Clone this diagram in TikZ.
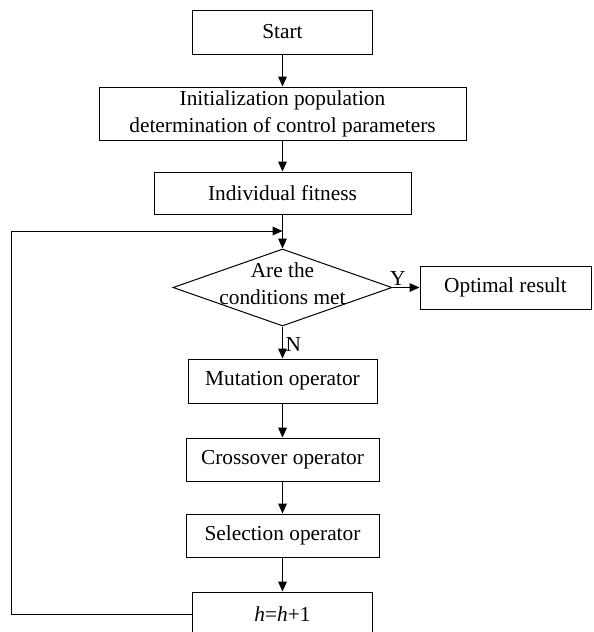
\documentclass[tikz,border=0pt]{standalone}
\usepackage{fontspec}
\setmainfont{Liberation Serif}
\usetikzlibrary{arrows.meta,shapes.geometric}
\begin{document}
\begin{tikzpicture}[x=0.75pt,y=-0.75pt,
  every node/.style={font=\fontsize{16pt}{20.25pt}\selectfont},
  box/.style={draw,line width=0.75pt,rectangle,inner sep=0pt,align=center},
  dia/.style={draw,line width=0.75pt,diamond,inner sep=0pt,minimum width=219*0.75pt,minimum height=77*0.75pt},
  arr/.style={line width=0.75pt,-{Triangle[length=7.5pt,width=6.5pt]}},
  ln/.style={line width=0.75pt}]
\useasboundingbox (0,0) rectangle (593,632);
\clip (0,0) rectangle (593,632);
\node[box,minimum width=180*0.75pt,minimum height=44*0.75pt] (start) at (282.5,32) {Start};
\node[box,minimum width=367*0.75pt,minimum height=53*0.75pt] (init) at (282.5,113.5) {Initialization population\\determination of control parameters};
\node[box,minimum width=257*0.75pt,minimum height=42*0.75pt] (fit) at (282.5,193) {Individual fitness};
\node[dia] (cond) at (282.5,287.5) {};
\node[align=center,inner sep=0pt] (condtxt) at (282.5,284) {Are the\\conditions met};
\node[box,minimum width=171*0.75pt,minimum height=43*0.75pt] (opt) at (505.5,287.5) {Optimal result};
\node[box,minimum width=189*0.75pt,minimum height=44*0.75pt] (mut) at (282.5,381) {Mutation operator};
\node[box,minimum width=193*0.75pt,minimum height=43*0.75pt] (cro) at (282.5,459.5) {Crossover operator};
\node[box,minimum width=193*0.75pt,minimum height=43*0.75pt] (sel) at (282.5,535.5) {Selection operator};
\node[box,minimum width=180*0.75pt,minimum height=44*0.75pt] (hup) at (282.5,614) {\textit{h}=\textit{h}+1};
\draw[arr] (start) -- (init);
\draw[arr] (init) -- (fit);
\draw[arr] (fit) -- (cond.north);
\draw[arr] (cond.east) -- node[above,inner sep=1.5pt,pos=0.2] (ylab) {Y} (opt.west);
\draw[arr] (cond.south) -- node[right,inner sep=2pt,pos=0.55] (nlab) {N} (mut.north);
\draw[arr] (mut) -- (cro);
\draw[arr] (cro) -- (sel);
\draw[arr] (sel) -- (hup);
\coordinate (lb) at (11,614);
\coordinate (lt) at (11,231);
\coordinate (lj) at (282.5,231);
\draw[arr] (hup.west) -- (lb) -- (lt) -- (lj);
\end{tikzpicture}
\end{document}
